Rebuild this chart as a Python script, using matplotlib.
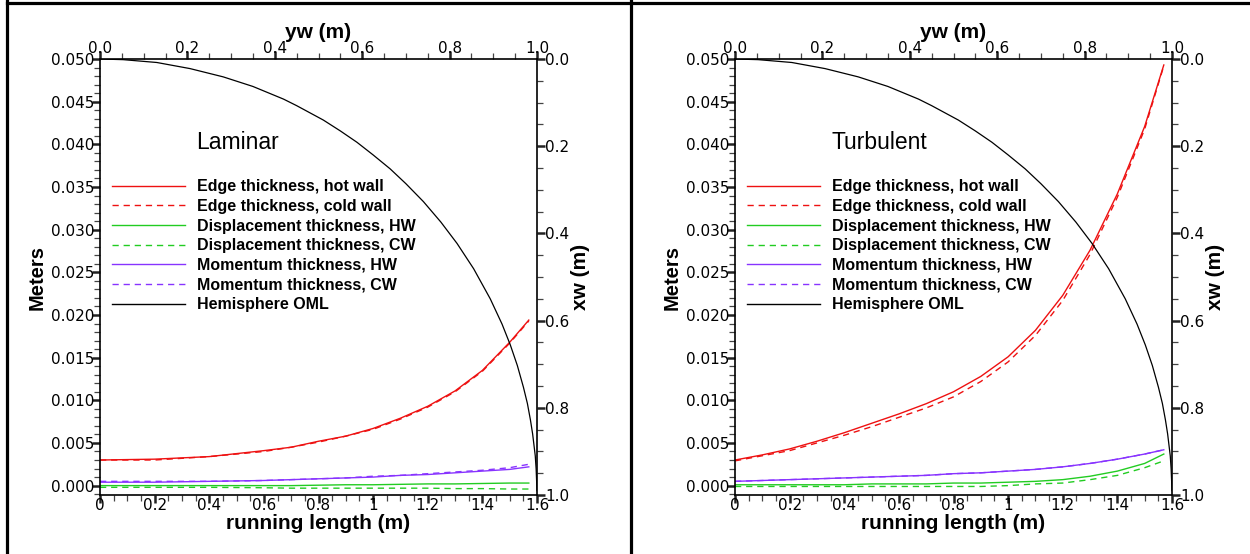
import numpy as np
import matplotlib
matplotlib.use('Agg')
import matplotlib.pyplot as plt
from matplotlib.lines import Line2D
from matplotlib.ticker import MultipleLocator, FormatStrFormatter, FuncFormatter

###################################################################
# Boundary layer thickness data (running length in m, thickness in m)

lam_s = [0.0, 0.2, 0.4, 0.6, 0.7, 0.8, 0.9, 1.0, 1.1, 1.2, 1.3, 1.4, 1.5, 1.57]
lam_edge_hw = [0.0030, 0.0031, 0.0034, 0.0041, 0.0045, 0.0052, 0.0058, 0.0067,
               0.0079, 0.0093, 0.0111, 0.0135, 0.0168, 0.0194]
lam_edge_cw = [0.0030, 0.0030, 0.0034, 0.0040, 0.0045, 0.0051, 0.0058, 0.0066,
               0.0078, 0.0092, 0.0110, 0.0134, 0.0167, 0.0193]
lam_disp_hw = [0.0000, 0.0000, 0.0000, 0.0000, 0.0000, 0.00005, 0.0001, 0.0001,
               0.00015, 0.0002, 0.0002, 0.00025, 0.0003, 0.0003]
lam_disp_cw = [-0.0002, -0.0002, -0.0002, -0.00025, -0.0003, -0.0003, -0.0003, -0.0003,
               -0.0003, -0.0003, -0.00035, -0.00035, -0.0004, -0.0004]
lam_mom_hw = [0.0004, 0.0004, 0.0005, 0.0006, 0.0007, 0.0008, 0.0009, 0.0010,
              0.0012, 0.0013, 0.0015, 0.0017, 0.0019, 0.0022]
lam_mom_cw = [0.0005, 0.0005, 0.0005, 0.0006, 0.0007, 0.0008, 0.0009, 0.0011,
              0.0012, 0.0014, 0.0016, 0.0018, 0.0021, 0.0025]

turb_s = [0.0, 0.1, 0.2, 0.3, 0.4, 0.5, 0.6, 0.7, 0.8, 0.9, 1.0, 1.1, 1.2, 1.3, 1.4, 1.5, 1.57]
turb_edge_hw = [0.0030, 0.0036, 0.0043, 0.0052, 0.0062, 0.0073, 0.0084, 0.0096, 0.0110,
                0.0128, 0.0151, 0.0182, 0.0223, 0.0276, 0.0342, 0.0421, 0.0493]
turb_edge_cw = [0.0029, 0.0035, 0.0041, 0.0050, 0.0059, 0.0069, 0.0080, 0.0091, 0.0104,
                0.0122, 0.0145, 0.0176, 0.0217, 0.0271, 0.0338, 0.0418, 0.0492]
turb_disp_hw = [0.0001, 0.0001, 0.0001, 0.0001, 0.0001, 0.0002, 0.0002, 0.0002, 0.0003,
                0.0003, 0.0004, 0.0005, 0.0007, 0.0011, 0.0017, 0.0026, 0.0037]
turb_disp_cw = [-0.0001, -0.0001, -0.0001, -0.0001, -0.0001, -0.0001, -0.0001, -0.0001, -0.0001,
                -0.0001, 0.0000, 0.0002, 0.0003, 0.0007, 0.0012, 0.0021, 0.0029]
turb_mom_hw = [0.0005, 0.0006, 0.0007, 0.0008, 0.0009, 0.0010, 0.0011, 0.0012, 0.0014,
               0.0015, 0.0017, 0.0019, 0.0022, 0.0026, 0.0031, 0.0037, 0.0042]
turb_mom_cw = [0.0005, 0.0006, 0.0007, 0.0008, 0.0009, 0.0010, 0.0011, 0.0012, 0.0014,
               0.0015, 0.0017, 0.0019, 0.0022, 0.0026, 0.0031, 0.0037, 0.0042]

# hemisphere outer mold line, yw vs xw (m)
oml_yw = [0.0, 0.053, 0.13, 0.206, 0.282, 0.35, 0.42, 0.45, 0.511, 0.55, 0.588, 0.625,
          0.664, 0.70, 0.74, 0.78, 0.817, 0.855, 0.893, 0.92, 0.939, 0.955, 0.969,
          0.978, 0.985, 0.99, 0.996, 0.998, 1.0]
oml_xw = [0.0, 0.0015, 0.008, 0.022, 0.041, 0.063, 0.092, 0.107, 0.140, 0.165, 0.191, 0.220,
          0.252, 0.286, 0.327, 0.374, 0.423, 0.481, 0.550, 0.608, 0.656, 0.703, 0.753,
          0.790, 0.828, 0.86, 0.91, 0.94, 0.99]

series_labels = ["Edge thickness, hot wall", "Edge thickness, cold wall",
                 "Displacement thickness, HW", "Displacement thickness, CW",
                 "Momentum thickness, HW", "Momentum thickness, CW",
                 "Hemisphere OML"]

RED = '#ee1111'
GREEN = '#22cc22'
PURPLE = '#8833ff'
DASH = (0, (4.5, 3.5))

TICKFONT = 'DejaVu Sans'
LABFONT = 'Liberation Sans'


def style_ticks(axis_obj, pad):
    axis_obj.set_tick_params(which='major', length=6, width=1.8, pad=pad,
                             labelsize=11, color='#222222')
    axis_obj.set_tick_params(which='minor', length=4, width=0.9, color='#444444')


def draw_panel(left, title, s, edge_hw, edge_cw, disp_hw, disp_cw, mom_hw, mom_cw):
    pos = [left, 0.1065, 0.3496, 0.787]
    ax = fig.add_axes(pos)
    ax.plot(s, edge_hw, color=RED, lw=1.0)
    ax.plot(s, edge_cw, color=RED, lw=1.0, linestyle=DASH)
    ax.plot(s, disp_hw, color=GREEN, lw=1.0)
    ax.plot(s, disp_cw, color=GREEN, lw=1.0, linestyle=DASH)
    ax.plot(s, mom_hw, color=PURPLE, lw=1.0)
    ax.plot(s, mom_cw, color=PURPLE, lw=1.0, linestyle=DASH)
    ax.set_xlim(0, 1.6)
    ax.set_ylim(-0.0011, 0.050)

    ax.xaxis.set_major_locator(MultipleLocator(0.2))
    ax.xaxis.set_minor_locator(MultipleLocator(0.05))
    ax.xaxis.set_major_formatter(FuncFormatter(lambda v, p: '%g' % round(v, 2)))
    ax.yaxis.set_major_locator(MultipleLocator(0.005))
    ax.yaxis.set_minor_locator(MultipleLocator(0.001))
    ax.yaxis.set_major_formatter(FormatStrFormatter('%.3f'))
    style_ticks(ax.xaxis, -4)
    style_ticks(ax.yaxis, -2)
    ax.spines['top'].set_visible(False)
    ax.spines['right'].set_visible(False)
    for sp in ax.spines.values():
        sp.set_linewidth(1.2)
    ax.set_xlabel("running length (m)", family=LABFONT, weight='bold', fontsize=15, labelpad=1)
    ax.set_ylabel("Meters", family=LABFONT, weight='bold', fontsize=14.5, labelpad=3)

    # second frame for the hemisphere geometry: yw on top, xw on right
    ax2 = fig.add_axes(pos, frameon=True)
    ax2.patch.set_visible(False)
    ax2.plot(oml_yw, oml_xw, color='black', lw=0.9)
    ax2.set_xlim(0, 1.0)
    ax2.set_ylim(1.0, 0.0)
    ax2.xaxis.tick_top()
    ax2.xaxis.set_label_position('top')
    ax2.yaxis.tick_right()
    ax2.yaxis.set_label_position('right')
    ax2.xaxis.set_major_locator(MultipleLocator(0.2))
    ax2.xaxis.set_minor_locator(MultipleLocator(0.05))
    ax2.yaxis.set_major_locator(MultipleLocator(0.2))
    ax2.yaxis.set_minor_locator(MultipleLocator(0.05))
    ax2.xaxis.set_major_formatter(FormatStrFormatter('%.1f'))
    ax2.yaxis.set_major_formatter(FormatStrFormatter('%.1f'))
    style_ticks(ax2.xaxis, -4)
    style_ticks(ax2.yaxis, 0)
    ax2.spines['bottom'].set_visible(False)
    ax2.spines['left'].set_visible(False)
    for sp in ax2.spines.values():
        sp.set_linewidth(1.2)
    ax2.set_xlabel("yw (m)", family=LABFONT, weight='bold', fontsize=15, labelpad=2)
    ax2.set_ylabel("xw (m)", family=LABFONT, weight='bold', fontsize=15, labelpad=1)

    for a in (ax, ax2):
        for lab in a.get_xticklabels() + a.get_yticklabels():
            lab.set_family(TICKFONT)

    ax2.text(0.22, 0.808, title, transform=ax.transAxes, family=LABFONT,
             fontsize=16.5, va='center', ha='left')

    handles = [Line2D([], [], color=RED, lw=1.0),
               Line2D([], [], color=RED, lw=1.0, linestyle=DASH),
               Line2D([], [], color=GREEN, lw=1.0),
               Line2D([], [], color=GREEN, lw=1.0, linestyle=DASH),
               Line2D([], [], color=PURPLE, lw=1.0),
               Line2D([], [], color=PURPLE, lw=1.0, linestyle=DASH),
               Line2D([], [], color='black', lw=1.0)]
    ax2.legend(handles, series_labels, loc='upper left', bbox_to_anchor=(0.0275, 0.724),
               frameon=False, borderpad=0, borderaxespad=0, handlelength=4.6,
               handletextpad=0.7, labelspacing=0.29,
               prop=dict(family=LABFONT, weight='bold', size=11.5))
    return ax, ax2


fig = plt.figure(figsize=(12.5, 5.54), dpi=100)

draw_panel(0.080, "Laminar", lam_s, lam_edge_hw, lam_edge_cw, lam_disp_hw,
           lam_disp_cw, lam_mom_hw, lam_mom_cw)
draw_panel(0.588, "Turbulent", turb_s, turb_edge_hw, turb_edge_cw, turb_disp_hw,
           turb_disp_cw, turb_mom_hw, turb_mom_cw)

# page frame lines
fig.add_artist(Line2D([7 / 1250, 1.0], [1 - 2.5 / 554, 1 - 2.5 / 554], color='black', lw=2.3))
fig.add_artist(Line2D([7 / 1250, 7 / 1250], [0.0, 1.0], color='black', lw=2.3))
fig.add_artist(Line2D([631 / 1250, 631 / 1250], [0.0, 1.0], color='black', lw=2.3))

fig.savefig('out.png', dpi=100)
